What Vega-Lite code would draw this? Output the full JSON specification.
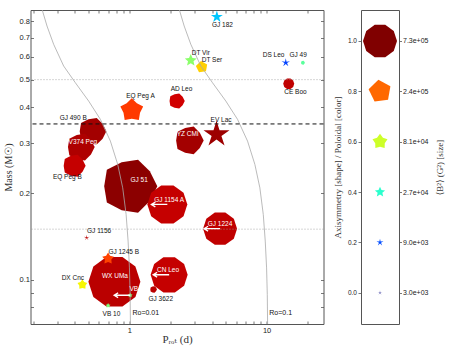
{
  "$schema": "https://vega.github.io/schema/vega-lite/v6.json",
  "background": "white",
  "padding": {"left": 2.5, "top": 9, "right": 2, "bottom": 2},
  "spacing": 7.5,
  "datasets": {
    "stars": [
      {"name": "GJ 51", "P": 1.0, "M": 0.212, "pol": 0.99, "axi": 0.9, "B2": 3000000, "ulim": false, "lP": 1.177, "lM": 0.2226},
      {"name": "GJ 1154 A", "P": 1.89, "M": 0.183, "pol": 0.94, "axi": 1.0, "B2": 1160000, "ulim": true, "lP": 1.949, "lM": 0.189},
      {"name": "GJ 490 B", "P": 0.537, "M": 0.33, "pol": 0.97, "axi": 0.9, "B2": 420000, "ulim": false, "lP": 0.389, "lM": 0.3677},
      {"name": "V374 Peg", "P": 0.441, "M": 0.2905, "pol": 0.96, "axi": 0.9, "B2": 420000, "ulim": false, "lP": 0.4576, "lM": 0.3017},
      {"name": "EQ Peg B", "P": 0.395, "M": 0.25, "pol": 0.94, "axi": 0.9, "B2": 240000, "ulim": false, "lP": 0.3527, "lM": 0.2281},
      {"name": "WX UMa", "P": 0.777, "M": 0.0982, "pol": 0.95, "axi": 1.0, "B2": 2450000, "ulim": false, "lP": 0.784, "lM": 0.1027},
      {"name": "GJ 1245 B", "P": 0.699, "M": 0.1184, "pol": 0.84, "axi": 0.5, "B2": 40000, "ulim": false, "lP": 0.909, "lM": 0.1249},
      {"name": "DX Cnc", "P": 0.454, "M": 0.096, "pol": 0.65, "axi": 0.6, "B2": 24000, "ulim": false, "lP": 0.387, "lM": 0.1013},
      {"name": "VB 8", "P": 1.012, "M": 0.0881, "pol": 0.5, "axi": 0.5, "B2": 3000, "ulim": true, "lP": 1.125, "lM": 0.093},
      {"name": "VB 10", "P": 0.699, "M": 0.0811, "pol": 0.5, "axi": 0.5, "B2": 3000, "ulim": false, "lP": 0.739, "lM": 0.0758},
      {"name": "CN Leo", "P": 1.948, "M": 0.1039, "pol": 0.94, "axi": 1.0, "B2": 930000, "ulim": true, "lP": 1.91, "lM": 0.1078},
      {"name": "GJ 3622", "P": 1.497, "M": 0.0923, "pol": 0.95, "axi": 0.9, "B2": 7900, "ulim": false, "lP": 1.692, "lM": 0.0858},
      {"name": "GJ 1224", "P": 4.58, "M": 0.1506, "pol": 0.945, "axi": 1.0, "B2": 730000, "ulim": true, "lP": 4.577, "lM": 0.157},
      {"name": "GJ 1156", "P": 0.488, "M": 0.14, "pol": 0.95, "axi": 0.1, "B2": 5100, "ulim": false, "lP": 0.601, "lM": 0.1484},
      {"name": "YZ CMi", "P": 2.728, "M": 0.3066, "pol": 0.97, "axi": 0.9, "B2": 460000, "ulim": false, "lP": 2.651, "lM": 0.3217},
      {"name": "EV Lac", "P": 4.315, "M": 0.3217, "pol": 0.975, "axi": 0.3, "B2": 390000, "ulim": false, "lP": 4.655, "lM": 0.361},
      {"name": "AD Leo", "P": 2.214, "M": 0.421, "pol": 0.93, "axi": 0.9, "B2": 84000, "ulim": false, "lP": 2.397, "lM": 0.4645},
      {"name": "EQ Peg A", "P": 1.04, "M": 0.391, "pol": 0.85, "axi": 0.7, "B2": 270000, "ulim": false, "lP": 1.203, "lM": 0.439},
      {"name": "CE Boo", "P": 14.5, "M": 0.484, "pol": 0.945, "axi": 1.0, "B2": 29000, "ulim": false, "lP": 16.23, "lM": 0.4523},
      {"name": "DS Leo", "P": 13.8, "M": 0.573, "pol": 0.19, "axi": 0.2, "B2": 16000, "ulim": false, "lP": 11.25, "lM": 0.608},
      {"name": "GJ 49", "P": 18.4, "M": 0.573, "pol": 0.46, "axi": 0.9, "B2": 1600, "ulim": false, "lP": 16.98, "lM": 0.608},
      {"name": "DT Vir", "P": 2.8, "M": 0.584, "pol": 0.52, "axi": 0.4, "B2": 42000, "ulim": false, "lP": 3.315, "lM": 0.618},
      {"name": "DT Ser", "P": 3.37, "M": 0.5535, "pol": 0.69, "axi": 0.8, "B2": 37000, "ulim": false, "lP": 4.0, "lM": 0.5856},
      {"name": "GJ 182", "P": 4.34, "M": 0.829, "pol": 0.32, "axi": 0.3, "B2": 42000, "ulim": false, "lP": 4.77, "lM": 0.7745}
    ],
    "ro": [
      {"Ro": "0.1", "P": 2.306, "M": 0.881}, {"Ro": "0.1", "P": 2.507, "M": 0.77}, {"Ro": "0.1", "P": 2.802, "M": 0.6645},
      {"Ro": "0.1", "P": 3.315, "M": 0.558}, {"Ro": "0.1", "P": 4.035, "M": 0.4876}, {"Ro": "0.1", "P": 5.046, "M": 0.4207},
      {"Ro": "0.1", "P": 6.143, "M": 0.3631}, {"Ro": "0.1", "P": 7.266, "M": 0.3048}, {"Ro": "0.1", "P": 8.216, "M": 0.2526},
      {"Ro": "0.1", "P": 8.934, "M": 0.2092}, {"Ro": "0.1", "P": 9.46, "M": 0.1689}, {"Ro": "0.1", "P": 9.78, "M": 0.1362},
      {"Ro": "0.1", "P": 10.0, "M": 0.1098}, {"Ro": "0.1", "P": 10.12, "M": 0.0886}, {"Ro": "0.1", "P": 10.17, "M": 0.0705},
      {"Ro": "0.1", "P": 10.18, "M": 0.068},
      {"Ro": "0.01", "P": 0.2306, "M": 0.881}, {"Ro": "0.01", "P": 0.2507, "M": 0.77}, {"Ro": "0.01", "P": 0.2802, "M": 0.6645},
      {"Ro": "0.01", "P": 0.3315, "M": 0.558}, {"Ro": "0.01", "P": 0.4035, "M": 0.4876}, {"Ro": "0.01", "P": 0.5046, "M": 0.4207},
      {"Ro": "0.01", "P": 0.6143, "M": 0.3631}, {"Ro": "0.01", "P": 0.7266, "M": 0.3048}, {"Ro": "0.01", "P": 0.8216, "M": 0.2526},
      {"Ro": "0.01", "P": 0.8934, "M": 0.2092}, {"Ro": "0.01", "P": 0.946, "M": 0.1689}, {"Ro": "0.01", "P": 0.978, "M": 0.1362},
      {"Ro": "0.01", "P": 1.0, "M": 0.1098}, {"Ro": "0.01", "P": 1.012, "M": 0.0886}, {"Ro": "0.01", "P": 1.017, "M": 0.0705},
      {"Ro": "0.01", "P": 1.018, "M": 0.068}
    ],
    "rolabels": [
      {"text": "Ro=0.01", "P": 1.052, "M": 0.0762},
      {"text": "Ro=0.1", "P": 10.46, "M": 0.0764}
    ],
    "legend": [
      {"level": 0.0, "B2": 3000},
      {"level": 0.2, "B2": 9000},
      {"level": 0.4, "B2": 27000},
      {"level": 0.6, "B2": 81000},
      {"level": 0.8, "B2": 243000},
      {"level": 1.0, "B2": 729000}
    ]
  },
  "config": {
    "view": {"stroke": "#555", "strokeWidth": 1},
    "axis": {
      "domain": false, "grid": false, "tickColor": "#555", "tickWidth": 0.8,
      "labelFont": "Liberation Sans", "labelFontSize": 7.5, "labelColor": "#222",
      "titleFont": "Liberation Serif, DejaVu Serif, DejaVu Sans", "titleFontWeight": "normal",
      "titleColor": "#333", "titleFontSize": 10
    }
  },
  "resolve": {"scale": {"color": "independent", "shape": "independent", "size": "independent"}},
  "hconcat": [
    {
      "width": 293,
      "height": 314,
      "resolve": {"axis": {"x": "independent", "y": "independent"}},
      "layer": [
        {
          "data": {"name": "stars"},
          "mark": {"type": "point", "filled": true, "opacity": 1, "strokeWidth": 0, "clip": true},
          "encoding": {
            "x": {"field": "P", "type": "quantitative", "scale": {"type": "log", "domain": [0.19, 26], "nice": false},
              "axis": {"orient": "bottom", "values": [0.2, 0.3, 0.4, 0.5, 0.6, 0.7, 0.8, 0.9, 1, 2, 3, 4, 5, 6, 7, 8, 9, 10, 20],
                "labelExpr": "datum.value == 1 ? '1' : datum.value == 10 ? '10' : ''", "tickSize": -3, "labelPadding": 5,
                "title": "Pᵣₒₜ (d)", "titlePadding": 0, "titleFontSize": 11}},
            "y": {"field": "M", "type": "quantitative", "scale": {"type": "log", "domain": [0.0699, 0.876], "nice": false},
              "axis": {"orient": "left", "values": [0.08, 0.09, 0.1, 0.2, 0.3, 0.4, 0.5, 0.6, 0.7, 0.8],
                "labelExpr": "datum.value < 0.1 ? '' : format(datum.value, '.1f')", "tickSize": -3, "labelPadding": 4,
                "title": "Mass (M☉)", "titlePadding": 6}},
            "color": {"field": "pol", "type": "quantitative", "legend": null,
              "scale": {"domain": [0, 0.11, 0.125, 0.34, 0.375, 0.64, 0.66, 0.89, 0.91, 1],
                "range": ["#000080", "#0000ff", "#0000ff", "#00dbff", "#14ffe2", "#eeff08", "#ffec00", "#ff1300", "#e80000", "#800000"], "interpolate": "rgb"}},
            "shape": {"field": "axi", "type": "nominal", "legend": null,
              "scale": {"domain": [0, 0.1, 0.2, 0.3, 0.4, 0.5, 0.6, 0.7, 0.8, 0.9, 1],
                "range": [
                  "M0,-1 L0.071,-0.097 L0.951,-0.309 L0.114,0.037 L0.588,0.809 L0,0.12 L-0.588,0.809 L-0.114,0.037 L-0.951,-0.309 L-0.071,-0.097 Z",
                  "M0,-1 L0.121,-0.167 L0.951,-0.309 L0.196,0.064 L0.588,0.809 L0,0.206 L-0.588,0.809 L-0.196,0.064 L-0.951,-0.309 L-0.121,-0.167 Z",
                  "M0,-1 L0.172,-0.236 L0.951,-0.309 L0.278,0.09 L0.588,0.809 L0,0.292 L-0.588,0.809 L-0.278,0.09 L-0.951,-0.309 L-0.172,-0.236 Z",
                  "M0,-1 L0.222,-0.306 L0.951,-0.309 L0.359,0.117 L0.588,0.809 L0,0.378 L-0.588,0.809 L-0.359,0.117 L-0.951,-0.309 L-0.222,-0.306 Z",
                  "M0,-1 L0.273,-0.375 L0.951,-0.309 L0.441,0.143 L0.588,0.809 L0,0.464 L-0.588,0.809 L-0.441,0.143 L-0.951,-0.309 L-0.273,-0.375 Z",
                  "M0,-1 L0.323,-0.445 L0.951,-0.309 L0.523,0.17 L0.588,0.809 L0,0.55 L-0.588,0.809 L-0.523,0.17 L-0.951,-0.309 L-0.323,-0.445 Z",
                  "M0,-1 L0.375,-0.515 L0.951,-0.309 L0.606,0.197 L0.588,0.809 L0,0.637 L-0.588,0.809 L-0.606,0.197 L-0.951,-0.309 L-0.375,-0.515 Z",
                  "M0,-1 L0.425,-0.585 L0.951,-0.309 L0.688,0.223 L0.588,0.809 L0,0.723 L-0.588,0.809 L-0.688,0.223 L-0.951,-0.309 L-0.425,-0.585 Z",
                  "M-0.139,-0.99 L0.899,-0.438 L0.695,0.719 L-0.469,0.883 L-0.985,-0.174 Z",
                  "M0.309,-0.951 L0.732,-0.532 L1,0 L0.732,0.532 L0.309,0.951 L-0.279,0.86 L-0.809,0.588 L-0.905,0 L-0.809,-0.588 L-0.279,-0.86 Z",
                  "M0.309,-0.951 L0.809,-0.588 L1,0 L0.809,0.588 L0.309,0.951 L-0.309,0.951 L-0.809,0.588 L-1,0 L-0.809,-0.588 L-0.309,-0.951 Z"
                ]}},
            "size": {"field": "B2", "type": "quantitative", "legend": null,
              "scale": {"type": "pow", "exponent": 0.7, "domain": [3000, 729000], "range": [25, 1156], "zero": false, "clamp": false}}
          }
        },
        {
          "data": {"name": "ro"},
          "mark": {"type": "line", "color": "#aaaaaa", "strokeWidth": 0.8, "clip": true},
          "encoding": {
            "x": {"field": "P", "type": "quantitative", "scale": {"type": "log", "domain": [0.19, 26], "nice": false},
              "axis": {"orient": "top", "values": [0.2, 0.3, 0.4, 0.5, 0.6, 0.7, 0.8, 0.9, 1, 2, 3, 4, 5, 6, 7, 8, 9, 10, 20], "labels": false, "tickSize": -3, "title": null}},
            "y": {"field": "M", "type": "quantitative", "scale": {"type": "log", "domain": [0.0699, 0.876], "nice": false},
              "axis": {"orient": "right", "values": [0.08, 0.09, 0.1, 0.2, 0.3, 0.4, 0.5, 0.6, 0.7, 0.8], "labels": false, "tickSize": -3, "title": null}},
            "detail": {"field": "Ro", "type": "nominal"},
            "order": {"field": "M", "type": "quantitative"}
          }
        },
        {
          "data": {"values": [{"M": 0.5}, {"M": 0.15}]},
          "mark": {"type": "rule", "color": "#999999", "strokeWidth": 0.8, "strokeDash": [1, 2]},
          "encoding": {
            "y": {"field": "M", "type": "quantitative", "scale": {"type": "log", "domain": [0.0699, 0.876], "nice": false}, "axis": null}
          }
        },
        {
          "data": {"values": [{"M": 0.35}]},
          "mark": {"type": "rule", "color": "#111111", "strokeWidth": 1, "strokeDash": [4, 3]},
          "encoding": {
            "y": {"field": "M", "type": "quantitative", "scale": {"type": "log", "domain": [0.0699, 0.876], "nice": false}, "axis": null}
          }
        },
        {
          "data": {"name": "stars"},
          "transform": [{"filter": "datum.ulim"}],
          "mark": {"type": "point", "filled": false, "color": "white", "strokeWidth": 1.3, "opacity": 1,
            "shape": "M0,0 L-2,0 M-1.5,-0.3 L-2,0 L-1.5,0.3", "size": 256},
          "encoding": {
            "x": {"field": "P", "type": "quantitative", "scale": {"type": "log", "domain": [0.19, 26], "nice": false}, "axis": null},
            "y": {"field": "M", "type": "quantitative", "scale": {"type": "log", "domain": [0.0699, 0.876], "nice": false}, "axis": null}
          }
        },
        {
          "data": {"name": "stars"},
          "mark": {"type": "text", "font": "Liberation Sans", "fontSize": 6.5, "align": "center", "baseline": "middle"},
          "encoding": {
            "x": {"field": "lP", "type": "quantitative", "scale": {"type": "log", "domain": [0.19, 26], "nice": false}, "axis": null},
            "y": {"field": "lM", "type": "quantitative", "scale": {"type": "log", "domain": [0.0699, 0.876], "nice": false}, "axis": null},
            "text": {"field": "name"},
            "color": {"condition": {"test": {"field": "name", "oneOf": ["YZ CMi", "V374 Peg", "GJ 51", "GJ 1154 A", "GJ 1224", "WX UMa", "CN Leo", "VB 8"]}, "value": "white"}, "value": "#111111"}
          }
        },
        {
          "data": {"name": "rolabels"},
          "mark": {"type": "text", "font": "Liberation Sans", "fontSize": 7, "align": "left", "baseline": "middle", "color": "#111111"},
          "encoding": {
            "x": {"field": "P", "type": "quantitative", "scale": {"type": "log", "domain": [0.19, 26], "nice": false}, "axis": null},
            "y": {"field": "M", "type": "quantitative", "scale": {"type": "log", "domain": [0.0699, 0.876], "nice": false}, "axis": null},
            "text": {"field": "text"}
          }
        }
      ]
    },
    {
      "width": 38,
      "height": 314,
      "data": {"name": "legend"},
      "resolve": {"scale": {"y": "independent"}},
      "layer": [
        {
          "mark": {"type": "point", "filled": true, "opacity": 1, "strokeWidth": 0},
          "encoding": {
            "x": {"datum": 0, "type": "quantitative", "scale": {"domain": [-1, 1]}, "axis": null},
            "y": {"field": "level", "type": "quantitative", "scale": {"domain": [-0.124, 1.123], "nice": false, "zero": false},
              "axis": {"orient": "left", "values": [0, 0.2, 0.4, 0.6, 0.8, 1], "format": ".1f", "tickSize": 3, "labelPadding": 1.5,
                "labelFontSize": 6.5, "title": "Axisymmetry [shape] / Poloidal [color]", "titleFontSize": 9, "titlePadding": 5}},
            "color": {"field": "level", "type": "quantitative", "legend": null,
              "scale": {"domain": [0, 0.11, 0.125, 0.34, 0.375, 0.64, 0.66, 0.89, 0.91, 1],
                "range": ["#000080", "#0000ff", "#0000ff", "#00dbff", "#14ffe2", "#eeff08", "#ffec00", "#ff1300", "#e80000", "#800000"], "interpolate": "rgb"}},
            "shape": {"field": "level", "type": "nominal", "legend": null,
              "scale": {"domain": [0, 0.2, 0.4, 0.6, 0.8, 1],
                "range": [
                  "M0,-1 L0.071,-0.097 L0.951,-0.309 L0.114,0.037 L0.588,0.809 L0,0.12 L-0.588,0.809 L-0.114,0.037 L-0.951,-0.309 L-0.071,-0.097 Z",
                  "M0,-1 L0.172,-0.236 L0.951,-0.309 L0.278,0.09 L0.588,0.809 L0,0.292 L-0.588,0.809 L-0.278,0.09 L-0.951,-0.309 L-0.172,-0.236 Z",
                  "M0,-1 L0.273,-0.375 L0.951,-0.309 L0.441,0.143 L0.588,0.809 L0,0.464 L-0.588,0.809 L-0.441,0.143 L-0.951,-0.309 L-0.273,-0.375 Z",
                  "M0,-1 L0.375,-0.515 L0.951,-0.309 L0.606,0.197 L0.588,0.809 L0,0.637 L-0.588,0.809 L-0.606,0.197 L-0.951,-0.309 L-0.375,-0.515 Z",
                  "M-0.139,-0.99 L0.899,-0.438 L0.695,0.719 L-0.469,0.883 L-0.985,-0.174 Z",
                  "M0.309,-0.951 L0.809,-0.588 L1,0 L0.809,0.588 L0.309,0.951 L-0.309,0.951 L-0.809,0.588 L-1,0 L-0.809,-0.588 L-0.309,-0.951 Z"
                ]}},
            "size": {"field": "B2", "type": "quantitative", "legend": null,
              "scale": {"type": "pow", "exponent": 0.7, "domain": [3000, 729000], "range": [25, 1156], "zero": false}}
          }
        },
        {
          "mark": {"type": "point", "opacity": 0},
          "encoding": {
            "x": {"datum": 0, "type": "quantitative", "scale": {"domain": [-1, 1]}, "axis": null},
            "y": {"field": "B2", "type": "quantitative", "scale": {"type": "log", "domain": [1515, 1434000], "nice": false},
              "axis": {"orient": "right", "values": [3000, 9000, 27000, 81000, 243000, 729000],
                "labelExpr": "replace(format(datum.value, '.1e'), 'e+', 'e+0')", "tickSize": 2.5, "labelPadding": 1,
                "labelFontSize": 7, "title": "⟨B²⟩ (G²) [size]", "titleFontSize": 9, "titleAngle": 270, "titleBaseline": "top", "titlePadding": 8}}
          }
        }
      ]
    }
  ]
}
